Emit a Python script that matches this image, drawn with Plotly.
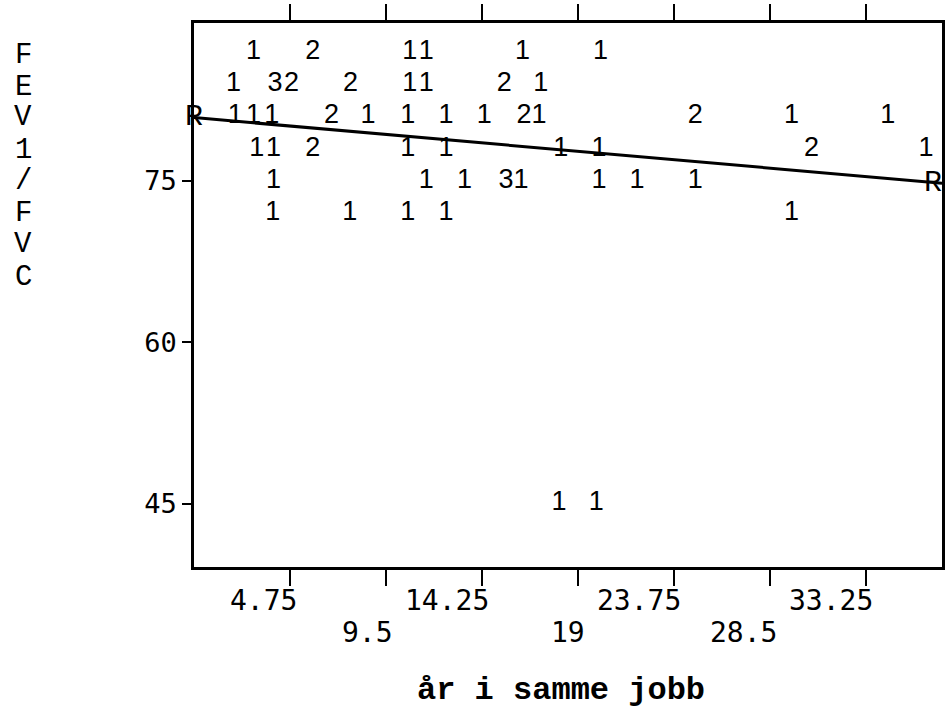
import plotly.graph_objects as go

# ---- data ----
# counts plotted as characters (x = years in same job, y = FEV1/FVC)
x_87 = [2.94, 5.87, 10.67, 11.49, 16.25, 20.11]
n_87 = ["1", "2", "1", "1", "1", "1"]
x_84 = [1.96, 4.01, 4.83, 7.74, 10.67, 11.49, 15.35, 17.15]
n_84 = ["1", "3", "2", "2", "1", "1", "2", "1"]
x_81 = [2.04, 2.94, 3.85, 6.8, 8.61, 10.58, 12.47, 14.36, 16.33, 17.07, 24.8, 29.56, 34.32]
n_81 = ["1", "1", "1", "2", "1", "1", "1", "1", "2", "1", "2", "1", "1"]
x_78 = [3.11, 3.93, 5.87, 10.58, 12.47, 18.14, 20.03, 30.54, 36.21]
n_78 = ["1", "1", "2", "1", "1", "1", "1", "2", "1"]
x_75 = [3.93, 11.49, 13.38, 15.43, 16.17, 20.03, 21.92, 24.8]
n_75 = ["1", "1", "1", "3", "1", "1", "1", "1"]
x_72 = [3.9, 7.71, 10.58, 12.47, 29.56]
n_72 = ["1", "1", "1", "1", "1"]
x_45 = [18.06, 19.9]
n_45 = ["1", "1"]

rows = [(87, x_87, n_87), (84, x_84, n_84), (81, x_81, n_81), (78, x_78, n_78),
        (75, x_75, n_75), (72, x_72, n_72), (45, x_45, n_45)]

# regression line end points
reg_x = [0, 37]
reg_y = [80.9, 74.8]

x_tickvals = [4.75, 9.5, 14.25, 19, 23.75, 28.5, 33.25]
x_ticktext = ["4.75", "9.5", "14.25", "19", "23.75", "28.5", "33.25"]
y_tickvals = [45, 60, 75]
y_ticktext = ["45", "60", "75"]

x_title = "år i samme jobb"
y_title = "FEV1/FVC"

MONO = "'Liberation Mono', 'Courier New', monospace"
SANS = "'Liberation Sans', Arial, sans-serif"
SANSMONO = "'DejaVu Sans Mono', monospace"

# ---- build figure ----
px_all, py_all, pt_all = [], [], []
for yv, xs, ns in rows:
    for xv, nv in zip(xs, ns):
        px_all.append(xv)
        py_all.append(yv)
        pt_all.append(nv)

fig = go.Figure()
fig.add_trace(go.Scatter(x=reg_x, y=reg_y, mode="lines",
                         line=dict(color="black", width=3), hoverinfo="skip"))
fig.add_trace(go.Scatter(x=px_all, y=py_all, text=pt_all, mode="text",
                         textposition="middle center", cliponaxis=False,
                         textfont=dict(family=SANS, size=27, color="black")))
fig.add_trace(go.Scatter(x=reg_x, y=reg_y, text=["R", "R"], mode="text",
                         textposition=["middle center", "middle left"], cliponaxis=False,
                         textfont=dict(family=MONO, size=30, color="black")))

annotations = []
for i, (tv, tt) in enumerate(zip(x_tickvals, x_ticktext)):
    annotations.append(dict(
        x=tv, y=0, xref="x", yref="paper", text=tt, showarrow=False,
        xanchor="right", yanchor="middle", xshift=9,
        yshift=-33 if i % 2 == 0 else -65,
        font=dict(family=SANSMONO, size=28, color="black")))

letter_y = [55, 87, 117, 150, 181, 213, 244, 277]
for ch, yc in zip(y_title, letter_y):
    annotations.append(dict(
        x=0, y=1, xref="paper", yref="paper", text=ch, showarrow=False,
        xanchor="center", yanchor="middle", xshift=-171, yshift=-(yc - 23),
        font=dict(family=MONO, size=29, color="black")))

annotations.append(dict(
    x=0.49, y=0, xref="paper", yref="paper", text="<b>" + x_title + "</b>",
    showarrow=False, xanchor="center", yanchor="middle", yshift=-123,
    font=dict(family=MONO, size=32, color="black")))

fig.update_layout(
    width=949, height=711,
    margin=dict(l=194, r=4, t=23, b=144),
    paper_bgcolor="white", plot_bgcolor="white",
    showlegend=False,
    annotations=annotations,
    xaxis=dict(range=[0, 37], tickvals=x_tickvals, showticklabels=False,
               ticks="outside", ticklen=16, tickwidth=2, tickcolor="black",
               showline=True, linecolor="black", linewidth=2.5, mirror="ticks",
               showgrid=False, zeroline=False),
    yaxis=dict(range=[39.1, 89.7], tickvals=y_tickvals, ticktext=y_ticktext,
               ticks="outside", ticklen=9, tickwidth=2, tickcolor="black",
               showline=True, linecolor="black", linewidth=2.5, mirror=True,
               showgrid=False, zeroline=False,
               tickfont=dict(family=SANSMONO, size=27, color="black")),
)

fig.write_html("out.html")
